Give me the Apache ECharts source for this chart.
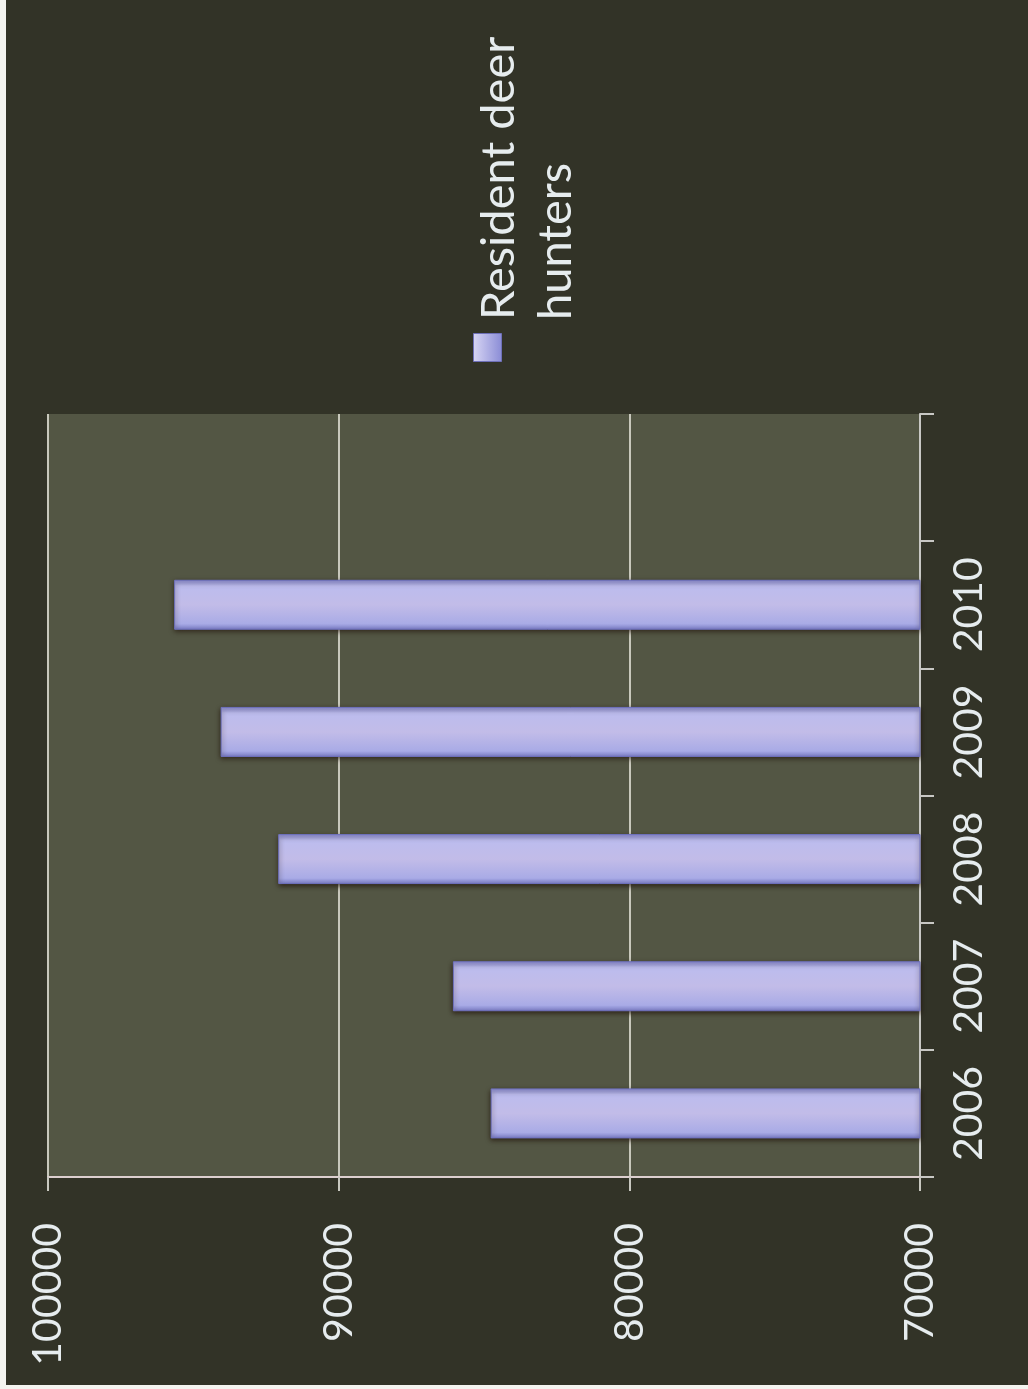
<!DOCTYPE html>
<html>
<head>
<meta charset="utf-8">
<script src="https://cdn.jsdelivr.net/npm/echarts@6/dist/echarts.min.js"></script>
<style>
html,body{margin:0;padding:0;background:#f4f4f0;}
#c{position:absolute;left:6px;top:0;width:1022px;height:1385px;}
</style>
</head>
<body>
<div id="c"></div>
<script>
var categories = ['2006', '2007', '2008', '2009', '2010', ''];
var seriesName = 'Resident deer hunters';
var hunters = [84770, 86070, 92080, 94060, 95660, null];
var valueMin = 70000, valueMax = 100000, valueStep = 10000;

var chart = echarts.init(document.getElementById('c'));
var textColor = '#e6ecee';
var barGrad = new echarts.graphic.LinearGradient(0, 0, 0, 1, [
  {offset: 0, color: '#8b8ed8'},
  {offset: 0.12, color: '#bcbcee'},
  {offset: 0.5, color: '#c2bce8'},
  {offset: 0.88, color: '#a9abe6'},
  {offset: 1, color: '#7d80cc'}
]);
chart.setOption({
  backgroundColor: '#323327',
  animation: false,
  grid: {left: 42, right: 108, top: 414, bottom: 208, show: true,
         backgroundColor: '#535644', borderWidth: 0},
  xAxis: {
    type: 'value', inverse: true, position: 'bottom',
    min: valueMin, max: valueMax, interval: valueStep,
    axisLine: {show: true, lineStyle: {color: '#dccfcf', width: 2}},
    axisTick: {show: true, length: 14, lineStyle: {color: '#c8c8c0', width: 2}},
    splitLine: {show: true, lineStyle: {color: '#c8c8bc', width: 2}},
    axisLabel: {rotate: 90, margin: 46, fontSize: 41, color: textColor, fontFamily: 'Lato',
                formatter: function (v) { return String(v); }}
  },
  yAxis: {
    type: 'category', position: 'right', data: categories,
    axisLine: {show: true, lineStyle: {color: '#c8c8c4', width: 2}},
    axisTick: {show: true, length: 14, lineStyle: {color: '#c8c8c4', width: 2}},
    splitLine: {show: false},
    axisLabel: {rotate: 90, margin: 28, fontSize: 41, color: textColor, fontFamily: 'Lato'}
  },
  series: [{
    name: seriesName, type: 'bar', data: hunters, barWidth: 50,
    itemStyle: {color: barGrad, borderColor: '#6f72c0', borderWidth: 1,
                shadowColor: 'rgba(30,15,5,0.75)', shadowBlur: 5, shadowOffsetY: 2}
  }],
  graphic: [
    {type: 'rect', left: 467, top: 333, shape: {width: 28, height: 28},
     style: {fill: new echarts.graphic.LinearGradient(0, 0, 1, 0, [
       {offset: 0, color: '#d8d6f4'}, {offset: 1, color: '#8a8cd6'}]),
       stroke: '#6e70b8', lineWidth: 1}},
    {type: 'text', x: 464, y: 320, rotation: Math.PI / 2,
     style: {text: seriesName.replace('deer ', 'deer\n'), fill: textColor,
             font: '47px Lato', lineHeight: 57, textAlign: 'left', textVerticalAlign: 'top'}}
  ]
});
</script>
</body>
</html>
